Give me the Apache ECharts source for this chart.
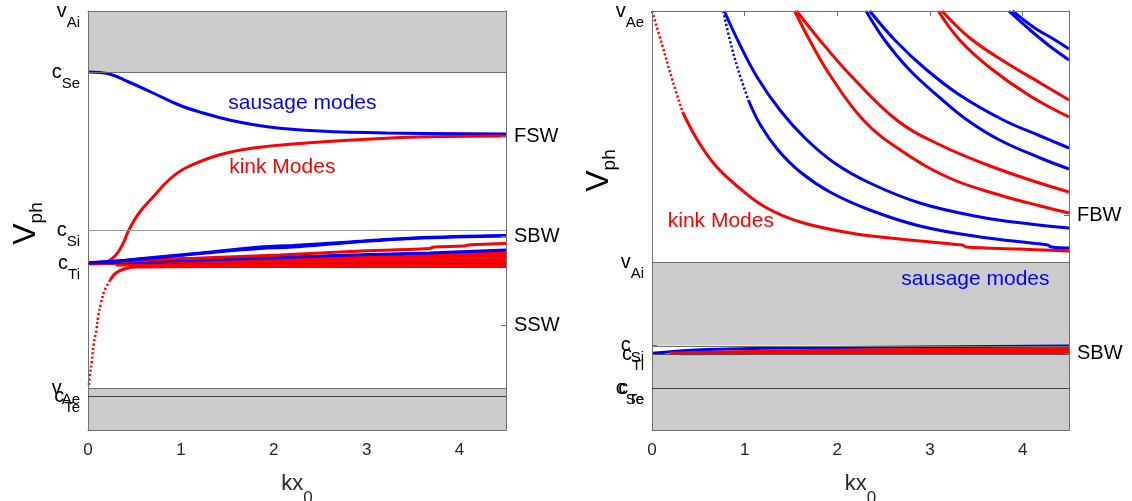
<!DOCTYPE html>
<html>
<head>
<meta charset="utf-8">
<script src="https://cdn.jsdelivr.net/npm/echarts@6/dist/echarts.min.js"></script>
<style>
  html, body { margin: 0; padding: 0; background: #ffffff; }
  #chart { width: 1132px; height: 501px; }
</style>
</head>
<body>
<div id="chart"></div>
<script>
// ---------- axes ----------
const xTicks = [0, 1, 2, 3, 4];
const xMax = 4.5;
const yMax = 4.19;

// ---------- characteristic speeds (left: slab in denser surroundings, right: other case) ----------
const leftLevelNames = ['v_Ai', 'c_Se', 'c_Si', 'c_Ti', 'v_Ae', 'c_Te'];
const leftLevelValues = [4.19, 3.58, 2.00, 1.67, 0.417, 0.34];
const leftBranchNames = ['FSW', 'SBW', 'SSW'];
const leftBranchValues = [2.94, 1.94, 1.05];

const rightLevelNames = ['v_Ae', 'v_Ai', 'c_Si', 'c_Ti', 'c_Se', 'c_Te'];
const rightLevelValues = [4.19, 1.68, 0.845, 0.76, 0.42, 0.418];
const rightBranchNames = ['FBW', 'SBW'];
const rightBranchValues = [2.15, 0.765];

// ---------- left panel dispersion curves  [kx0, Vph] ----------
const leftSausageFast = [[0, 3.58], [0.23, 3.56], [0.44, 3.48], [0.70, 3.37], [0.98, 3.25], [1.24, 3.17], [1.52, 3.10], [1.95, 3.03], [2.49, 2.99], [3.21, 2.97], [4.5, 2.96]];
const leftKinkFast = [[0, 1.67], [0.19, 1.68], [0.30, 1.75], [0.38, 1.87], [0.44, 2.00], [0.55, 2.17], [0.70, 2.33], [0.87, 2.50], [1.05, 2.62], [1.41, 2.75], [1.78, 2.82], [2.35, 2.87], [2.85, 2.90], [3.56, 2.93], [4.5, 2.94]];
const leftKinkLowSteep = [[0.01, 0.45], [0.02, 0.55], [0.04, 0.68], [0.06, 0.85], [0.09, 1.00], [0.11, 1.14], [0.14, 1.27], [0.18, 1.40], [0.24, 1.50]];
const leftKinkLowFlat = [[0.24, 1.50], [0.30, 1.57], [0.39, 1.61], [0.51, 1.63], [1.5, 1.635], [4.5, 1.635]];
const leftSausageSlowA = [[0, 1.67], [0.34, 1.69], [0.64, 1.72], [1.21, 1.77], [1.85, 1.83], [2.2, 1.845], [2.82, 1.88], [3.50, 1.92], [4.5, 1.945]];
const leftSausageSlowB = [[0, 1.67], [0.64, 1.715], [1.21, 1.765], [1.85, 1.815], [2.2, 1.83], [2.82, 1.875], [3.50, 1.915], [4.5, 1.94]];
const leftSausageSlowC = [[0, 1.67], [1.21, 1.70], [2.07, 1.725], [2.82, 1.75], [3.68, 1.77], [4.5, 1.80]];
const leftKinkSlowA = [[0, 1.665], [0.67, 1.70], [1.21, 1.72], [2.07, 1.75], [2.82, 1.785], [3.68, 1.815], [3.72, 1.83], [4.05, 1.84], [4.09, 1.85], [4.5, 1.865]];
const leftKinkSlowB = [[0, 1.67], [2.07, 1.72], [4.5, 1.775]];
const leftKinkSlowC = [[0, 1.668], [2.07, 1.70], [4.5, 1.74]];
const leftKinkSlowD = [[0, 1.667], [2.07, 1.685], [4.5, 1.70]];
const leftKinkSlowE = [[0.3, 1.655], [2.07, 1.66], [4.5, 1.665]];

// ---------- right panel dispersion curves  [kx0, Vph] ----------
const rightKink0Steep = [[0, 4.19], [0.11, 3.85], [0.22, 3.50], [0.33, 3.18]];
const rightKink0 = [[0.33, 3.18], [0.49, 2.90], [0.68, 2.65], [0.93, 2.43], [1.22, 2.23], [1.60, 2.08], [2.14, 1.97], [2.78, 1.90], [3.35, 1.85], [3.39, 1.83], [3.97, 1.81], [4.5, 1.79]];
const rightSausage1Steep = [[0.77, 4.19], [0.84, 3.90], [0.93, 3.60], [1.04, 3.30]];
const rightSausage1 = [[1.04, 3.30], [1.17, 3.05], [1.36, 2.80], [1.60, 2.58], [1.92, 2.38], [2.35, 2.20], [2.89, 2.04], [3.54, 1.93], [4.27, 1.85], [4.31, 1.83], [4.5, 1.82]];
const rightSausage2 = [[0.78, 4.19], [0.95, 3.85], [1.14, 3.52], [1.38, 3.20], [1.65, 2.92], [1.97, 2.67], [2.35, 2.47], [2.89, 2.27], [3.54, 2.13], [4.08, 2.06], [4.5, 2.02]];
const rightKink1 = [[1.54, 4.19], [1.70, 3.90], [1.92, 3.55], [2.28, 3.10], [2.68, 2.80], [3.21, 2.52], [3.75, 2.35], [4.19, 2.24], [4.5, 2.17]];
const rightKink2 = [[1.56, 4.19], [1.81, 3.90], [2.14, 3.55], [2.64, 3.10], [3.11, 2.85], [3.65, 2.64], [4.08, 2.50], [4.5, 2.38]];
const rightSausage3 = [[2.31, 4.19], [2.51, 3.90], [2.78, 3.60], [3.11, 3.32], [3.40, 3.10], [3.75, 2.90], [4.19, 2.72], [4.5, 2.61]];
const rightSausage4 = [[2.35, 4.19], [2.62, 3.90], [2.94, 3.62], [3.32, 3.35], [3.79, 3.10], [4.19, 2.94], [4.5, 2.82]];
const rightKink3 = [[3.09, 4.19], [3.32, 3.90], [3.65, 3.62], [4.08, 3.34], [4.5, 3.13]];
const rightKink4 = [[3.13, 4.19], [3.43, 3.92], [3.81, 3.68], [4.19, 3.47], [4.5, 3.30]];
const rightSausage5 = [[3.85, 4.19], [4.08, 4.00], [4.29, 3.84], [4.5, 3.70]];
const rightSausage6 = [[3.89, 4.19], [4.13, 4.02], [4.35, 3.90], [4.5, 3.81]];
const rightSausageSlow = [[0, 0.767], [0.6, 0.805], [2.0, 0.825], [4.5, 0.84]];
const rightKinkSlowA = [[0.19, 0.767], [1.7, 0.795], [4.5, 0.815]];
const rightKinkSlowB = [[0.19, 0.765], [2.2, 0.78], [4.5, 0.795]];
const rightKinkSlowC = [[0.3, 0.763], [4.5, 0.775]];

// ---------- drawing ----------
const FONT = '"Liberation Sans", Arial, Helvetica, sans-serif';
const BLUE = '#0000ff';
const RED = '#ff0000';
const FRAME = '#707070';
const SHADE = '#cccccc';

function subText(name) {
  const p = name.split('_');
  return p.length > 1 ? '{m|' + p[0] + '}{s|' + p[1] + '}' : '{m|' + p[0] + '}';
}
function lookup(names, values) {
  return function (v) {
    for (let i = 0; i < values.length; i++) {
      if (Math.abs(values[i] - v) < 1e-6) return subText(names[i]);
    }
    return '';
  };
}
// split level labels between axes so that crowded neighbours are each drawn
function pick(names, values, keep) {
  const n = [], v = [];
  names.forEach((nm, i) => { if (keep(nm)) { n.push(nm); v.push(values[i]); } });
  return { names: n, values: v };
}

const tickRich = {
  m: { fontSize: 20, lineHeight: 22, color: '#000', fontFamily: FONT },
  s: { fontSize: 15, lineHeight: 15, padding: [24, 0, 0, 0], color: '#000', fontFamily: FONT }
};
const nameRichY = {
  m: { fontSize: 32, lineHeight: 36, color: '#000', fontFamily: FONT },
  s: { fontSize: 19, lineHeight: 18, padding: [21, 0, 0, 0], color: '#000', fontFamily: FONT }
};
const nameRichX = {
  m: { fontSize: 22, lineHeight: 24, color: '#262626', fontFamily: FONT },
  s: { fontSize: 17, lineHeight: 17, padding: [28, 0, 0, 0], color: '#262626', fontFamily: FONT }
};

function xAxisBottom(grid) {
  return {
    type: 'value', gridIndex: grid, position: 'bottom', min: 0, max: xMax, interval: 1,
    z: 4,
    axisLine: { show: true, onZero: false, lineStyle: { color: FRAME, width: 1 } },
    axisTick: { show: false },
    splitLine: { show: false },
    axisLabel: { customValues: xTicks, margin: 12, fontSize: 17, color: '#262626', fontFamily: FONT },
    name: '{m|kx}{s|0}', nameLocation: 'middle', nameGap: 42, nameMoveOverlap: false,
    nameTextStyle: { rich: nameRichX }
  };
}
function xAxisTop(grid, ticks) {
  return {
    type: 'value', gridIndex: grid, position: 'top', min: 0, max: xMax, interval: 1,
    z: 4,
    axisLine: { show: true, onZero: false, lineStyle: { color: FRAME, width: 1 } },
    axisTick: { show: ticks, inside: true, length: 5, customValues: xTicks, lineStyle: { color: FRAME } },
    splitLine: { show: false },
    axisLabel: { show: false }
  };
}
function xAxisHidden(grid) {
  return { type: 'value', gridIndex: grid, min: 0, max: xMax, show: false };
}
function yAxisLeft(grid, lv, namePad) {
  return {
    type: 'value', gridIndex: grid, position: 'left', min: 0, max: yMax,
    z: 4,
    axisLine: { show: true, onZero: false, lineStyle: { color: FRAME, width: 1 } },
    axisTick: { show: true, inside: true, length: 5, customValues: lv.values, lineStyle: { color: FRAME } },
    splitLine: { show: false },
    axisLabel: { customValues: lv.values, margin: 8, hideOverlap: false, showMinLabel: true, showMaxLabel: true,
      formatter: lookup(lv.names, lv.values), rich: tickRich },
    name: '{m|V}{s|ph}', nameLocation: 'middle', nameRotate: 90, nameGap: namePad.gap, nameMoveOverlap: false,
    nameTextStyle: { rich: nameRichY, padding: namePad.padding }
  };
}
function yAxisLabelsOnly(grid, lv) {
  return {
    type: 'value', gridIndex: grid, position: 'left', min: 0, max: yMax,
    z: 4,
    axisLine: { show: false },
    axisTick: { show: false },
    splitLine: { show: false },
    axisLabel: { customValues: lv.values, margin: 8, hideOverlap: false, showMinLabel: true, showMaxLabel: true,
      formatter: lookup(lv.names, lv.values), rich: tickRich }
  };
}
function yAxisRight(grid, names, values) {
  return {
    type: 'value', gridIndex: grid, position: 'right', min: 0, max: yMax,
    z: 4,
    axisLine: { show: true, onZero: false, lineStyle: { color: FRAME, width: 1 } },
    axisTick: { show: true, inside: true, length: 5, customValues: values, lineStyle: { color: FRAME } },
    splitLine: { show: false },
    axisLabel: { customValues: values, margin: 8, hideOverlap: false, showMinLabel: true, showMaxLabel: true,
      fontSize: 20, color: '#000', fontFamily: FONT,
      formatter: function (v) { for (let i = 0; i < values.length; i++) if (Math.abs(values[i] - v) < 1e-6) return names[i]; return ''; } }
  };
}

function curve(xi, yi, data, color, extra) {
  return Object.assign({
    type: 'line', xAxisIndex: xi, yAxisIndex: yi, data: data,
    symbol: 'none', showSymbol: false, smooth: 0.4,
    lineStyle: { color: color, width: 3 }, z: 2, silent: true, animation: false
  }, extra || {});
}
// steep starts of the branches, drawn as a chain of dots
function dotted(xi, yi, data, color) {
  return curve(xi, yi, data, color, { lineStyle: { color: color, width: 2.5, type: [2.2, 2.2], cap: 'butt' } });
}
function levelLine(v, color) {
  return { yAxis: v, lineStyle: { color: color, width: 1, type: 'solid' } };
}
function note(coord, text, color) {
  return { coord: coord, symbol: 'circle', symbolSize: 0, itemStyle: { color: 'transparent' },
    label: { show: true, position: 'right', distance: 0, formatter: text, color: color, fontSize: 21, fontFamily: FONT } };
}

// shaded forbidden bands, speed levels and mode annotations
function frameSeries(xi, yi, bands, lines, notes) {
  return {
    type: 'line', xAxisIndex: xi, yAxisIndex: yi, data: [], silent: true, animation: false, z: 1,
    markArea: { silent: true, itemStyle: { color: SHADE, opacity: 1 }, data: bands.map(b => [{ yAxis: b[0] }, { yAxis: b[1] }]) },
    markLine: { silent: true, symbol: ['none', 'none'], label: { show: false }, animation: false, data: lines },
    markPoint: { silent: true, animation: false, data: notes }
  };
}

const L = leftLevelValues, R = rightLevelValues;

const series = [
  frameSeries(0, 0,
    [[L[1], L[0]], [0, L[4]]],
    [levelLine(L[1], '#6e6e6e'), levelLine(L[2], '#9a9a9a'), levelLine(L[3], '#262626'), levelLine(L[4], '#6e6e6e'), levelLine(L[5], '#404040')],
    [note([1.51, 3.27], 'sausage modes', BLUE), note([1.52, 2.63], 'kink Modes', RED)]),
  curve(0, 0, leftSausageFast, BLUE),
  curve(0, 0, leftKinkFast, RED),
  curve(0, 0, leftKinkSlowE, RED, { lineStyle: { color: RED, width: 4 } }),
  curve(0, 0, leftKinkSlowD, RED, { lineStyle: { color: RED, width: 4 } }),
  curve(0, 0, leftKinkSlowC, RED, { lineStyle: { color: RED, width: 4 } }),
  curve(0, 0, leftKinkSlowB, RED, { lineStyle: { color: RED, width: 4 } }),
  curve(0, 0, leftSausageSlowC, BLUE),
  curve(0, 0, leftKinkSlowA, RED),
  curve(0, 0, leftSausageSlowB, BLUE),
  curve(0, 0, leftSausageSlowA, BLUE),
  dotted(0, 0, leftKinkLowSteep, RED),
  curve(0, 0, leftKinkLowFlat, RED),

  frameSeries(2, 2,
    [[R[2], R[1]], [0, R[3]]],
    [levelLine(R[1], '#6e6e6e'), levelLine(R[2], '#6e6e6e'), levelLine(R[3], '#505050'), levelLine(R[4], '#404040')],
    [note([0.17, 2.09], 'kink Modes', RED), note([2.69, 1.51], 'sausage modes', BLUE)]),
  dotted(2, 2, rightKink0Steep, RED),
  curve(2, 2, rightKink0, RED),
  dotted(2, 2, rightSausage1Steep, BLUE),
  curve(2, 2, rightSausage1, BLUE),
  curve(2, 2, rightSausage2, BLUE),
  curve(2, 2, rightKink1, RED),
  curve(2, 2, rightKink2, RED),
  curve(2, 2, rightSausage3, BLUE),
  curve(2, 2, rightSausage4, BLUE),
  curve(2, 2, rightKink3, RED),
  curve(2, 2, rightKink4, RED),
  curve(2, 2, rightSausage5, BLUE),
  curve(2, 2, rightSausage6, BLUE),
  curve(2, 2, rightSausageSlow, BLUE),
  curve(2, 2, rightKinkSlowA, RED),
  curve(2, 2, rightKinkSlowB, RED),
  curve(2, 2, rightKinkSlowC, RED)
];

const leftGrid = { left: 88, top: 11, width: 418, height: 419, containLabel: false, outerBoundsMode: 'none' };
const rightGrid = { left: 652, top: 11, width: 417, height: 419, containLabel: false, outerBoundsMode: 'none' };

const chart = echarts.init(document.getElementById('chart'), null, { renderer: 'canvas' });
chart.setOption({
  backgroundColor: '#ffffff',
  animation: false,
  textStyle: { fontFamily: FONT },
  // grids 2-4 are label-only overlays of the two panels
  grid: [leftGrid, rightGrid, Object.assign({}, leftGrid), Object.assign({}, rightGrid), Object.assign({}, rightGrid)],
  xAxis: [xAxisBottom(0), xAxisTop(0, false), xAxisBottom(1), xAxisTop(1, true), xAxisHidden(2), xAxisHidden(3), xAxisHidden(4)],
  yAxis: [
    yAxisLeft(0, pick(leftLevelNames, leftLevelValues, n => n !== 'c_Te'), { gap: 44, padding: [0, 6, 0, 0] }),
    yAxisRight(0, leftBranchNames, leftBranchValues),
    yAxisLeft(1, pick(rightLevelNames, rightLevelValues, n => n !== 'c_Te' && n !== 'c_Ti'), { gap: 35, padding: [0, 0, 0, 100] }),
    yAxisRight(1, rightBranchNames, rightBranchValues),
    yAxisLabelsOnly(2, pick(leftLevelNames, leftLevelValues, n => n === 'c_Te')),
    yAxisLabelsOnly(3, pick(rightLevelNames, rightLevelValues, n => n === 'c_Te')),
    yAxisLabelsOnly(4, pick(rightLevelNames, rightLevelValues, n => n === 'c_Ti'))
  ],
  series: series
});
</script>
</body>
</html>
